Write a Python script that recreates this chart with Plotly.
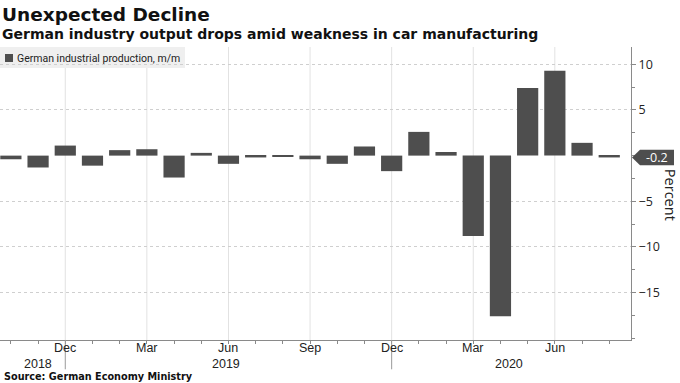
import plotly.graph_objects as go

months = ["2018-10", "2018-11", "2018-12", "2019-01", "2019-02", "2019-03", "2019-04",
          "2019-05", "2019-06", "2019-07", "2019-08", "2019-09", "2019-10", "2019-11",
          "2019-12", "2020-01", "2020-02", "2020-03", "2020-04", "2020-05", "2020-06",
          "2020-07", "2020-08"]
values = [-0.4, -1.3, 1.1, -1.1, 0.6, 0.7, -2.4, 0.3, -0.9, -0.2, -0.1, -0.4, -0.9,
          1.0, -1.7, 2.6, 0.4, -8.8, -17.6, 7.4, 9.3, 1.4, -0.2]
month_labels = {"2018-12": "Dec", "2019-03": "Mar", "2019-06": "Jun", "2019-09": "Sep",
                "2019-12": "Dec", "2020-03": "Mar", "2020-06": "Jun"}
year_labels = [("2018", 1.0), ("2019", 7.9), ("2020", 18.3)]
year_dividers = ["2018-12", "2019-12"]
y_ticks = [10, 5, -5, -10, -15]

BAR = "#4e4e4e"
GRID = "#cfcfcf"
AX = "#8a8a8a"
BOLDF = "DejaVu Sans, sans-serif"
LEGF = "Roboto, sans-serif"
TICKF = "Open Sans, Liberation Sans, sans-serif"
XF = "Liberation Sans, Arial, sans-serif"

fig = go.Figure()
fig.add_trace(go.Bar(x=months, y=values, marker=dict(color=BAR, line=dict(width=0)),
                     width=0.78, showlegend=False))

shapes = []
for m in month_labels:
    shapes.append(dict(type="line", xref="x", yref="paper", x0=m, x1=m, y0=0, y1=1,
                       line=dict(color="#e2e2e2", width=1), layer="below"))
for m in year_dividers:
    shapes.append(dict(type="line", xref="x", yref="paper", x0=m, x1=m, y0=0, y1=-0.1,
                       line=dict(color="#9a9a9a", width=1)))

last = values[-1]
pw = 631.0
tip, bx0, bx1 = 632 / pw, 640 / pw, 674 / pw
h = 0.85
shapes.append(dict(type="path", xref="paper", yref="y",
                   path=f"M {tip},{last} L {bx0},{last + h} L {bx1},{last + h} L {bx1},{last - h} L {bx0},{last - h} Z",
                   fillcolor=BAR, line=dict(width=0)))
# legend box and swatch
shapes.append(dict(type="rect", xref="paper", yref="paper", x0=0, x1=185 / pw,
                   y0=(340 - 68) / 293, y1=(340 - 47) / 293, fillcolor="#efefef",
                   line=dict(width=0), layer="below"))
shapes.append(dict(type="rect", xref="paper", yref="paper", x0=5 / pw, x1=13 / pw,
                   y0=(340 - 62) / 293, y1=(340 - 54) / 293, fillcolor=BAR,
                   line=dict(width=0)))

annotations = [
    dict(text="<b>Unexpected Decline</b>", x=0, y=(340 - 14) / 293, xref="paper", yref="paper",
         xanchor="left", yanchor="middle", showarrow=False,
         font=dict(family=BOLDF, size=18.5, color="#111")),
    dict(text="<b>German industry output drops amid weakness in car manufacturing</b>",
         x=0, y=(340 - 34) / 293, xref="paper", yref="paper", xanchor="left", yanchor="middle",
         showarrow=False, font=dict(family=BOLDF, size=14, color="#111")),
    dict(text="<b>Source: German Economy Ministry</b>", x=0.003, y=(340 - 377) / 293,
         xref="paper", yref="paper", xanchor="left", yanchor="middle", showarrow=False,
         font=dict(family=BOLDF, size=9.7, color="#111")),
    dict(text="German industrial production, m/m",
         x=15 / pw, y=(340 - 58) / 293, xref="paper", yref="paper", xanchor="left",
         yanchor="middle", showarrow=False,
         font=dict(family=LEGF, size=10.5, color="#222")),
    dict(text=f"{last}", x=657 / pw, y=last, xref="paper", yref="y", xanchor="center",
         yanchor="middle", showarrow=False, font=dict(family=TICKF, size=12.5, color="white")),
    dict(text="Percent", x=670 / pw, y=-4.3, xref="paper", yref="y", textangle=90,
         xanchor="center", yanchor="middle", showarrow=False,
         font=dict(family=TICKF, size=14.5, color="#222")),
]
for m, lab in month_labels.items():
    annotations.append(dict(text=lab, x=m, y=(340 - 348) / 293, xref="x", yref="paper",
                            xanchor="center", yanchor="middle", showarrow=False,
                            font=dict(family=XF, size=12.5, color="#222")))
for txt, pos in year_labels:
    annotations.append(dict(text=txt, x=pos, y=(340 - 363.5) / 293, xref="x", yref="paper",
                            xanchor="center", yanchor="middle", showarrow=False,
                            font=dict(family=XF, size=12.5, color="#222")))

fig.update_layout(
    width=680, height=383,
    margin=dict(l=0, r=49, t=47, b=43),
    paper_bgcolor="white", plot_bgcolor="white",
    shapes=shapes, annotations=annotations,
    xaxis=dict(type="category", range=[-0.4, 22.8],
               tickvals=months, showticklabels=False,
               ticks="outside", ticklen=3, tickcolor=AX, showgrid=False,
               showline=True, linecolor=AX, linewidth=1),
    yaxis=dict(side="right", range=[-20.2, 11.9], tickvals=y_ticks,
               ticks="outside", ticklen=4, tickcolor=AX,
               showgrid=True, gridcolor=GRID, griddash="dot", zeroline=False,
               showline=True, linecolor=AX, linewidth=1,
               minor=dict(dtick=2.5, tick0=0, ticks="outside", ticklen=3, tickcolor=AX, showgrid=False),
               tickfont=dict(family=TICKF, size=12.5, color="#222")),
)

fig.write_html("out.html", config={"displayModeBar": False},
               post_script="document.body.style.margin='0';")
